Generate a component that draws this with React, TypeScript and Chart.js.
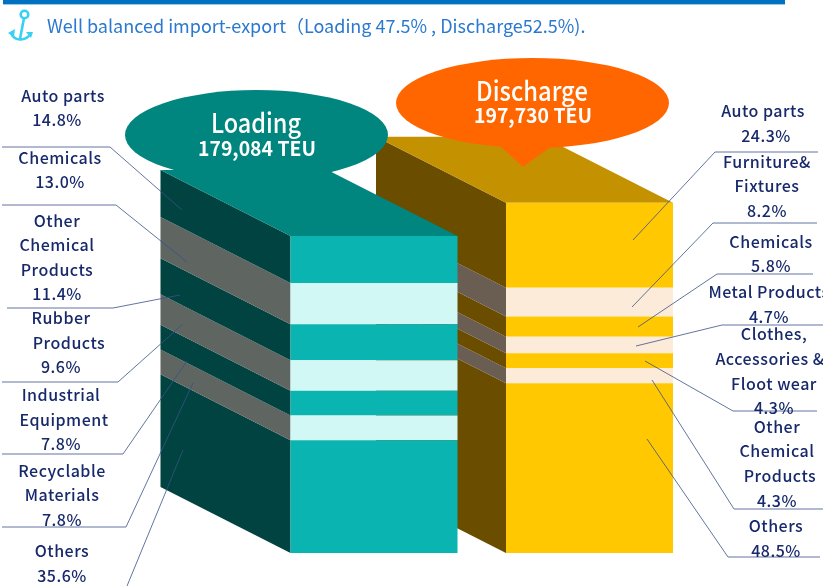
import React, { useEffect, useRef } from "react";
import { Chart, registerables } from "chart.js";

Chart.register(...registerables);

// ---------- data (top of stack first) ----------
const barNames = ["Loading", "Discharge"];
const barTotals = [179084, 197730];
const barTotalLabels = ["179,084 TEU", "197,730 TEU"];
const loadingCategories = ["Auto parts", "Chemicals", "Other\nChemical\nProducts", "Rubber\nProducts", "Industrial\nEquipment", "Recyclable\nMaterials", "Others"];
const loadingShares = [14.8, 13.0, 11.4, 9.6, 7.8, 7.8, 35.6];
const dischargeCategories = ["Auto parts", "Furniture&\nFixtures", "Chemicals", "Metal Products", "Clothes,\nAccessories &\nFloot wear", "Other\nChemical\nProducts", "Others"];
const dischargeShares = [24.3, 8.2, 5.8, 4.7, 4.3, 4.3, 48.5];
const titleText = "Well balanced import-export（Loading 47.5% , Discharge52.5%).";

// ---------- layout & style ----------
const W = 823, H = 586;
const DEPTH_X = 130, DEPTH_Y = 66;
const FRONT = [["#0ab4b0", "#d2f8f5"], ["#ffc800", "#fdebd9"]];
const SIDE = [["#004340", "#5f6561"], ["#6b4d00", "#6a5d52"]];
const TOP = ["#00857f", "#c49200"];
const INK = "#17296b";
const FONT = '"Noto Sans CJK JP", "Noto Sans", sans-serif';

// [x, y] of every text line, in reading order (last is the percentage)
const loadingLabelPos: number[][][] = [
  [[63, 95], [57, 119]],
  [[60, 157], [60, 181]],
  [[57, 220], [57, 244], [57, 269], [57, 293]],
  [[61, 317], [69, 342], [61, 366]],
  [[61, 394], [64, 419], [61, 443]],
  [[62, 470], [62, 494], [62, 519]],
  [[62, 550], [62, 575]],
];
const dischargeLabelPos: number[][][] = [
  [[763, 110], [766, 135]],
  [[767, 161], [767, 185], [767, 210]],
  [[771, 241], [771, 265]],
  [[769, 291], [769, 316]],
  [[774, 333], [770, 358], [774, 383], [774, 407]],
  [[777, 426], [777, 450], [780, 475], [777, 500]],
  [[776, 525], [776, 550]],
];
const leaders: number[][][] = [
  [[2, 147], [110, 147], [182, 210]],
  [[2, 205], [116, 205], [187, 262]],
  [[7, 308], [113, 308], [180, 295]],
  [[2, 382], [118, 382], [183, 324]],
  [[2, 454], [123, 454], [187, 361]],
  [[2, 527], [126, 527], [193, 383]],
  [[127, 586], [183, 450]],
  [[818, 152], [715, 152], [633, 240]],
  [[817, 223], [713, 223], [632, 307]],
  [[813, 274], [717, 274], [638, 327]],
  [[823, 325], [722, 325], [636, 346]],
  [[817, 411], [733, 411], [645, 361]],
  [[823, 509], [734, 509], [652, 380]],
  [[820, 557], [728, 557], [647, 439]],
];
const ellipses = [
  { cx: 256.5, cy: 135, rx: 131.5, ry: 45, color: "#00857f" },
  { cx: 532.5, cy: 103, rx: 136.5, ry: 45, color: "#ff6600" },
];

const sharesTop = [loadingShares, dischargeShares];

// bottom of the stack is the first dataset, so reverse the top-first lists
const bandCount = loadingShares.length;
const datasets = Array.from({ length: bandCount }, (_, i) => {
  const r = bandCount - 1 - i;
  const band = r % 2;
  return {
    label: `${loadingCategories[r]} / ${dischargeCategories[r]}`,
    data: sharesTop.map((s, b) => (barTotals[b] * s[r]) / 100),
    backgroundColor: [FRONT[0][band], FRONT[1][band]],
    borderWidth: 0,
    barPercentage: 0.775,
    categoryPercentage: 1,
    stack: "s",
  };
});

const boxPlugin = {
  id: "box3d",
  beforeDatasetsDraw(chart: any) {
    const ctx = chart.ctx;
    ctx.save();
    // draw back bar (Discharge) first, so Loading covers it
    [1, 0].forEach((b) => {
      let topEl: any = null;
      chart.data.datasets.forEach((_: any, i: number) => {
        const el = chart.getDatasetMeta(i).data[b];
        const r = bandCount - 1 - i;
        const lx = el.x - el.width / 2;
        ctx.fillStyle = SIDE[b][r % 2];
        ctx.beginPath();
        ctx.moveTo(lx, el.y);
        ctx.lineTo(lx, el.base);
        ctx.lineTo(lx - DEPTH_X, el.base - DEPTH_Y);
        ctx.lineTo(lx - DEPTH_X, el.y - DEPTH_Y);
        ctx.closePath();
        ctx.fill();
        topEl = el;
      });
      const lx = topEl.x - topEl.width / 2;
      const rx = topEl.x + topEl.width / 2;
      ctx.fillStyle = TOP[b];
      ctx.beginPath();
      ctx.moveTo(lx, topEl.y);
      ctx.lineTo(rx, topEl.y);
      ctx.lineTo(rx - DEPTH_X, topEl.y - DEPTH_Y);
      ctx.lineTo(lx - DEPTH_X, topEl.y - DEPTH_Y);
      ctx.closePath();
      ctx.fill();
    });
    ctx.restore();
  },
  afterDatasetsDraw(chart: any) {
    const ctx = chart.ctx;
    ctx.save();
    // header rule
    ctx.fillStyle = "#0070c0";
    ctx.fillRect(3, 0, 782, 4);
    ctx.fillStyle = "#9cc8e8";
    ctx.fillRect(3, 4, 782, 1);
    // anchor icon
    ctx.strokeStyle = "#3ad0f4";
    ctx.fillStyle = "#3ad0f4";
    ctx.lineWidth = 2.6;
    ctx.beginPath();
    ctx.arc(24.5, 14.5, 3.8, 0, Math.PI * 2);
    ctx.stroke();
    ctx.beginPath();
    ctx.moveTo(24, 18);
    ctx.lineTo(20, 39);
    ctx.stroke();
    ctx.beginPath();
    ctx.moveTo(11, 33);
    ctx.quadraticCurveTo(14, 40, 21, 39.5);
    ctx.quadraticCurveTo(28, 39, 31, 33);
    ctx.stroke();
    [[8, 33, 15, 29, 14, 37], [33, 32, 26, 32, 31, 38]].forEach((p) => {
      ctx.beginPath();
      ctx.moveTo(p[0], p[1]);
      ctx.lineTo(p[2], p[3]);
      ctx.lineTo(p[4], p[5]);
      ctx.closePath();
      ctx.fill();
    });
    // callout ellipses (the orange one points at its bar)
    ctx.fillStyle = ellipses[1].color;
    ctx.beginPath();
    ctx.ellipse(ellipses[1].cx, ellipses[1].cy, ellipses[1].rx, ellipses[1].ry, 0, 0, Math.PI * 2);
    ctx.fill();
    ctx.beginPath();
    ctx.moveTo(500, 146);
    ctx.lineTo(523, 167);
    ctx.lineTo(552, 146);
    ctx.closePath();
    ctx.fill();
    ctx.fillStyle = ellipses[0].color;
    ctx.beginPath();
    ctx.ellipse(ellipses[0].cx, ellipses[0].cy, ellipses[0].rx, ellipses[0].ry, 0, 0, Math.PI * 2);
    ctx.fill();
    // leader lines
    ctx.strokeStyle = "#3a5288";
    ctx.lineWidth = 0.8;
    leaders.forEach((pts) => {
      ctx.beginPath();
      pts.forEach((p, i) => (i ? ctx.lineTo(p[0], p[1]) : ctx.moveTo(p[0], p[1])));
      ctx.stroke();
    });
    ctx.restore();
  },
};

function Label({ text, x, y, sx = 1, style }: { text: string; x: number; y: number; sx?: number; style?: React.CSSProperties }) {
  return (
    <div
      style={{
        position: "absolute",
        left: x,
        top: y,
        transform: `translate(-50%,-50%) scaleX(${sx})`,
        whiteSpace: "pre",
        fontFamily: FONT,
        fontSize: 16,
        fontWeight: 500,
        lineHeight: "20px",
        color: INK,
        letterSpacing: 0.5,
        ...style,
      }}
    >
      {text}
    </div>
  );
}

function labelLines(cats: string[], shares: number[], pos: number[][][]) {
  const out: { text: string; x: number; y: number }[] = [];
  cats.forEach((c, i) => {
    const lines = [...c.split("\n"), `${shares[i].toFixed(1)}%`];
    const ps = pos[i];
    lines.forEach((t, j) => out.push({ text: t, x: ps[j][0], y: ps[j][1] }));
  });
  return out;
}

export default function App() {
  const ref = useRef<HTMLCanvasElement>(null);
  useEffect(() => {
    const chart = new Chart(ref.current as HTMLCanvasElement, {
      type: "bar",
      data: { labels: barNames, datasets },
      options: {
        animation: false,
        responsive: false,
        layout: { padding: { left: 266.25, right: 125.75, top: 199, bottom: 33 } },
        plugins: { legend: { display: false }, tooltip: { enabled: false } },
        scales: {
          x: { display: false, stacked: true },
          y: { display: false, stacked: true, min: 0, max: 200000 },
        },
      } as any,
      plugins: [boxPlugin as any],
    });
    return () => chart.destroy();
  }, []);

  const lines = [
    ...labelLines(loadingCategories, loadingShares, loadingLabelPos),
    ...labelLines(dischargeCategories, dischargeShares, dischargeLabelPos),
  ];
  const white = { color: "#fff", letterSpacing: 0 };
  return (
    <div style={{ position: "absolute", left: 0, top: 0, width: W, height: H, overflow: "hidden", background: "#fff" }}>
      <canvas ref={ref} width={W} height={H} style={{ position: "absolute", left: 0, top: 0, display: "block" }} />
      <div
        style={{
          position: "absolute", left: 47, top: 13, whiteSpace: "pre", fontFamily: FONT,
          fontSize: 18, lineHeight: "24px", color: "#2a78cf",
        }}
      >
        {titleText}
      </div>
      {lines.map((l, i) => (
        <Label key={i} text={l.text} x={l.x} y={l.y} />
      ))}
      <Label text={barNames[0]} x={255.5} y={122} sx={0.87} style={{ ...white, fontSize: 27, lineHeight: "30px" }} />
      <Label text={barTotalLabels[0]} x={256.5} y={148} sx={0.97} style={{ ...white, fontSize: 20, fontWeight: 700, lineHeight: "24px" }} />
      <Label text={barNames[1]} x={531.5} y={90} sx={0.88} style={{ ...white, fontSize: 27, lineHeight: "30px" }} />
      <Label text={barTotalLabels[1]} x={533} y={115} sx={0.97} style={{ ...white, fontSize: 20, fontWeight: 700, lineHeight: "24px" }} />
    </div>
  );
}
